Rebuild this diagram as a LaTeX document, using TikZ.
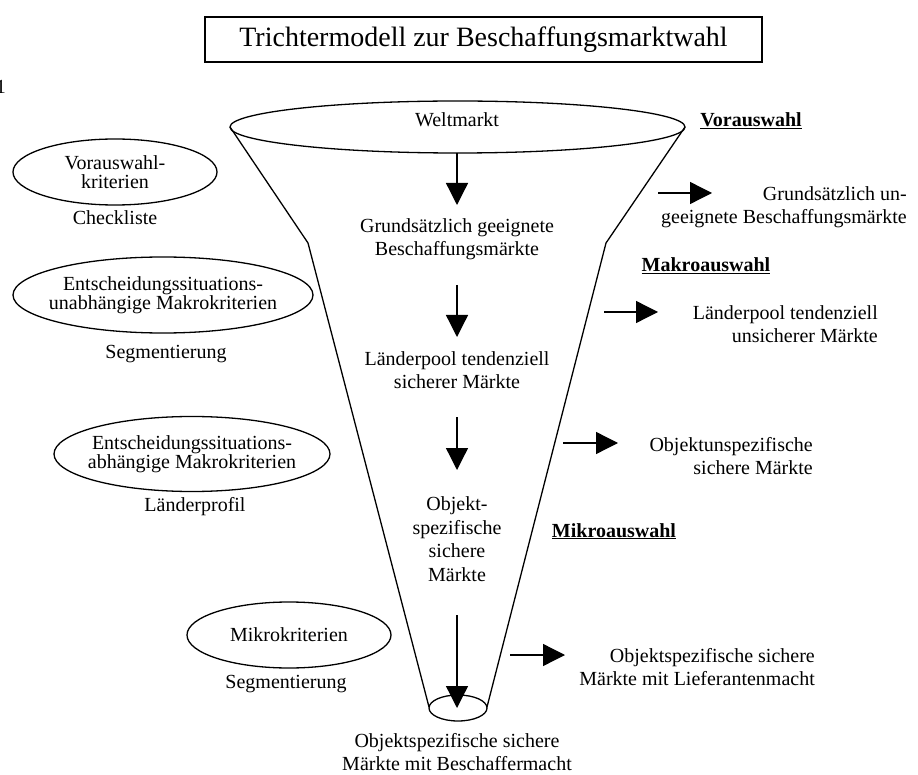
\documentclass[tikz,border=0pt]{standalone}
\usepackage{fontspec}
\setmainfont{Liberation Serif}
\usetikzlibrary{shapes.geometric,arrows.meta}

\begin{document}
\begin{tikzpicture}[x=1pt,y=-1pt,
  txt/.style={font=\fontsize{20}{23.5}\selectfont,align=center,inner sep=0pt},
  rest/.style={txt,align=right,anchor=east},
  stufe/.style={font=\fontsize{20}{23.5}\selectfont\bfseries,inner sep=0pt,anchor=base},
  krit/.style={draw,ellipse,line width=1.3pt,inner xsep=-30pt,inner ysep=0pt,font=\fontsize{20}{18.5}\selectfont,align=center},
  trichter/.style={line width=1.3pt},
  pfeil/.style={line width=1.3pt,-{Triangle[length=22pt,width=22pt]}}]
\useasboundingbox (0,0) rectangle (918,775);

% Titel
\node[draw,line width=1.3pt,minimum width=557pt,minimum height=45pt,inner sep=0pt,
  font=\fontsize{28}{32}\selectfont] (titel) at (483.5,39.5) {Trichtermodell zur Beschaffungsmarktwahl};
\node[txt,anchor=base east] (rand) at (6,94) {1};

% Trichter
\draw[trichter] (457.5,127) ellipse [x radius=227.5,y radius=26];
\draw[trichter] (230,127) -- (308,243) -- (429,707);
\draw[trichter] (685,127) -- (606,243) -- (487,707);
\draw[trichter] (458,708) ellipse [x radius=29,y radius=13];

% Stufen im Trichter
\node[txt] (welt) at (457,120) {Weltmarkt};
\node[txt] (geeignet) at (457,239) {Grundsätzlich geeignete\\Beschaffungsmärkte};
\node[txt] (pool) at (457,370) {Länderpool tendenziell\\sicherer Märkte};
\node[txt] (objekt) at (457,539) {Objekt-\\spezifische\\sichere\\Märkte};
\node[txt] (beschaffer) at (457,752) {Objektspezifische sichere\\Märkte mit Beschaffermacht};

\coordinate (s1) at (457,153);
\coordinate (e1) at (457,205);
\coordinate (s2) at (457,285);
\coordinate (e2) at (457,337);
\coordinate (s3) at (457,417);
\coordinate (e3) at (457,470);
\coordinate (s4) at (457,615);
\coordinate (e4) at (457,708);
\draw[pfeil] (s1) -- (e1);
\draw[pfeil] (s2) -- (e2);
\draw[pfeil] (s3) -- (e3);
\draw[pfeil] (s4) -- (e4);

% Auswahlstufen
\node[stufe] (vor) at (751,127) {\underline{Vorauswahl}};
\node[stufe] (makro) at (706,272) {\underline{Makroauswahl}};
\node[stufe] (mikro) at (614,537) {\underline{Mikroauswahl}};

% ausgeschiedene Maerkte
\node[rest] (unge) at (907,207) {Grundsätzlich un-\\geeignete Beschaffungsmärkte};
\node[rest] (unsicher) at (878,324) {Länderpool tendenziell\\unsicherer Märkte};
\node[rest] (unspez) at (813,456) {Objektunspezifische\\sichere Märkte};
\node[rest] (liefer) at (815,667) {Objektspezifische sichere\\Märkte mit Lieferantenmacht};

\coordinate (r1) at (658,193);
\coordinate (t1) at (712,193);
\coordinate (r2) at (604,312);
\coordinate (t2) at (658,312);
\coordinate (r3) at (563,443);
\coordinate (t3) at (618,443);
\coordinate (r4) at (510,655);
\coordinate (t4) at (565,655);
\draw[pfeil] (r1) -- (t1);
\draw[pfeil] (r2) -- (t2);
\draw[pfeil] (r3) -- (t3);
\draw[pfeil] (r4) -- (t4);

% Kriterien
\node[krit,minimum width=204pt,minimum height=66pt] (k1) at (115,172) {Vorauswahl-\\kriterien};
\node[krit,minimum width=300pt,minimum height=76pt] (k2) at (163,295) {Entscheidungssituations-\\unabhängige Makrokriterien};
\node[krit,minimum width=276pt,minimum height=75pt] (k3) at (192,454) {Entscheidungssituations-\\abhängige Makrokriterien};
\node[krit,minimum width=204pt,minimum height=66pt] (k4) at (289,635) {Mikrokriterien};
\node[txt] (m1) at (115,218) {Checkliste};
\node[txt] (m2) at (166,354) {Segmentierung};
\node[txt] (m3) at (195,507) {Länderprofil};
\node[txt] (m4) at (286,684) {Segmentierung};
\end{tikzpicture}
\end{document}
